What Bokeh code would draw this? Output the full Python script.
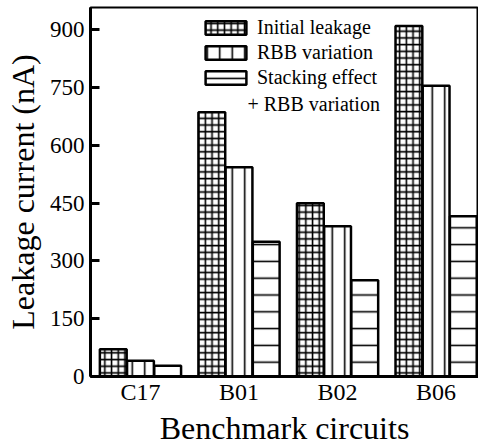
from bokeh.plotting import figure
from bokeh.models import ColumnDataSource, Range1d, FixedTicker, Legend, LegendItem, Label
from bokeh.transform import dodge
from bokeh.embed import file_html
from bokeh.resources import INLINE

categories = ["C17", "B01", "B02", "B06"]
initial_leakage = [71, 686, 450, 910]
rbb_variation = [41, 543, 390, 755]
stacking_rbb = [28, 350, 250, 416]
y_ticks = [0, 150, 300, 450, 600, 750, 900]

FONT = "'Liberation Serif', 'Times New Roman', serif"
xs = list(range(len(categories)))

src = ColumnDataSource(dict(x=xs, init=initial_leakage, rbb=rbb_variation, stack=stacking_rbb))

p = figure(width=478, height=448, output_backend="svg", toolbar_location=None,
           x_range=Range1d(-0.507, 3.43), y_range=Range1d(0, 958),
           min_border_left=90, min_border_right=0, min_border_top=7, min_border_bottom=72)

w = 0.272
off = 0.276
common = dict(fill_color="white", line_color="black", line_width=2.5, hatch_color="black")
r1 = p.vbar(x=dodge('x', -off), top='init', width=w, source=src,
            hatch_pattern="cross", hatch_scale=6.7, hatch_weight=1.6, **common)
r2 = p.vbar(x=dodge('x', 0), top='rbb', width=w, source=src,
            hatch_pattern="vertical_line", hatch_scale=12.5, hatch_weight=1.6, **common)
r3 = p.vbar(x=dodge('x', off), top='stack', width=w, source=src,
            hatch_pattern="horizontal_line", hatch_scale=16.8, hatch_weight=1.6, **common)

p.xgrid.visible = False
p.ygrid.visible = False
p.outline_line_color = "black"
p.outline_line_width = 2

p.yaxis.ticker = FixedTicker(ticks=y_ticks)
p.yaxis.axis_label = "Leakage current (nA)"
p.xaxis.ticker = FixedTicker(ticks=xs)
p.xaxis.major_label_overrides = {i: c for i, c in enumerate(categories)}
p.xaxis.axis_label = "Benchmark circuits"
for ax in (p.xaxis[0], p.yaxis[0]):
    ax.axis_line_width = 3
    ax.axis_line_color = "black"
    ax.minor_tick_line_color = None
    ax.minor_tick_in = 0
    ax.minor_tick_out = 0
    ax.major_label_text_font = FONT
    ax.axis_label_text_font = FONT
    ax.axis_label_text_font_style = "normal"
    ax.major_label_text_color = "black"
    ax.axis_label_text_color = "black"
    ax.axis_label_text_font_size = "32px"
p.yaxis.major_tick_in = 9
p.yaxis.major_tick_out = 0
p.yaxis.major_tick_line_width = 3
p.yaxis.major_label_text_font_size = "23px"
p.yaxis.major_label_standoff = 6
p.yaxis.axis_label_standoff = 6
p.xaxis.major_tick_line_color = None
p.xaxis.major_tick_in = 0
p.xaxis.major_tick_out = 0
p.xaxis.major_label_text_font_size = "24px"
p.xaxis.major_label_standoff = 2
p.xaxis.axis_label_standoff = 2

legend = Legend(items=[
    LegendItem(label="Initial leakage", renderers=[r1]),
    LegendItem(label="RBB variation", renderers=[r2]),
    LegendItem(label="Stacking effect", renderers=[r3]),
], location=(110, 287), padding=0, margin=0, spacing=2,
    glyph_width=51, glyph_height=17, label_height=17, label_standoff=6,
    border_line_color=None, background_fill_alpha=0,
    label_text_font=FONT, label_text_font_size="20px", label_text_color="black")
p.add_layout(legend)

p.add_layout(Label(x=157, y=273, x_units="screen", y_units="screen",
                   text="+ RBB variation", text_font=FONT, text_font_size="20px",
                   text_color="black", text_baseline="middle"))

open("out.html", "w").write(file_html(p, INLINE))
